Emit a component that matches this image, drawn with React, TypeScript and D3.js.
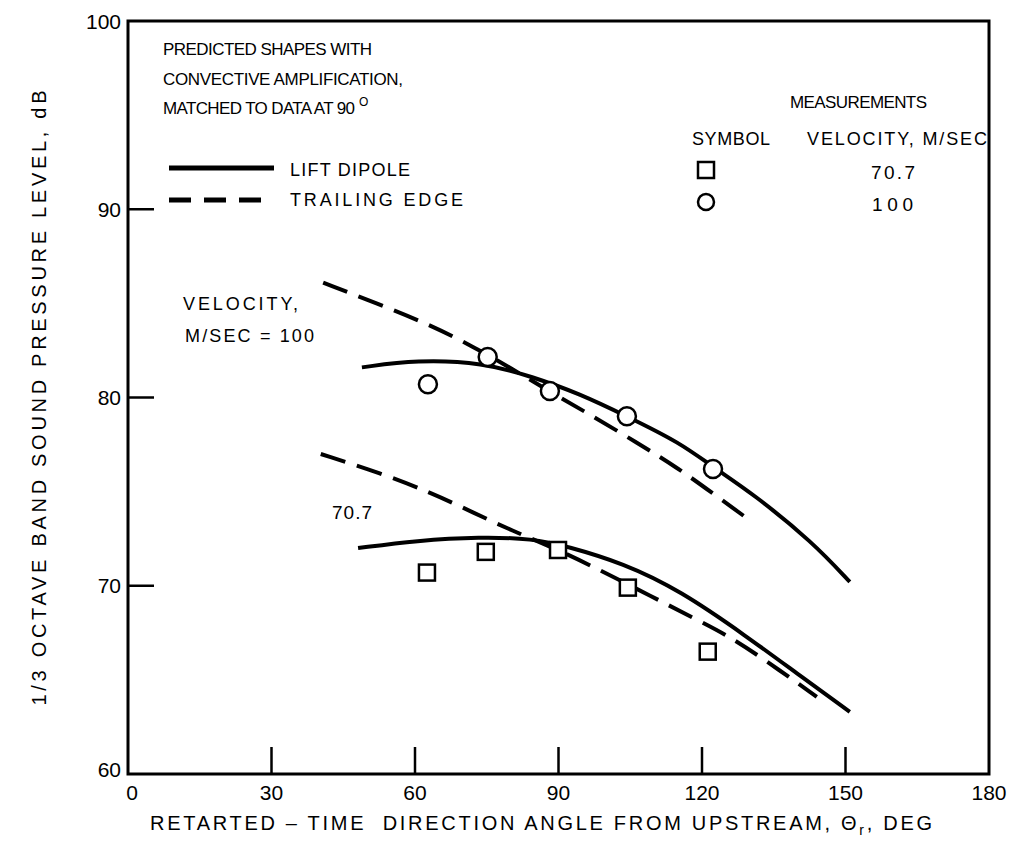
import React from "react";
import * as d3 from "d3";

// Predicted curves (angle deg, SPL dB)
const liftDipole100: [number, number][] = [
  [48.9, 81.6], [60.4, 82.0], [74.2, 81.85], [84.6, 81.1], [94.4, 80.2], [104.3, 79.0],
  [115.4, 77.6], [122.3, 76.3], [130.6, 74.9], [143.2, 72.3], [150.9, 70.2],
];
const trailingEdge100: [number, number][] = [
  [40.8, 86.1], [52.0, 85.0], [63.7, 83.8], [72.1, 82.7], [80.5, 81.5], [88.2, 80.3],
  [95.9, 79.2], [106.4, 77.6], [114.7, 76.3], [122.3, 74.9], [130.4, 73.4],
];
const liftDipole707: [number, number][] = [
  [48.1, 72.0], [60.4, 72.4], [73.6, 72.6], [84.7, 72.5], [91.7, 72.1], [103.5, 71.2],
  [115.4, 69.75], [129.4, 67.3], [139.8, 65.35], [150.9, 63.3],
];
const trailingEdge707: [number, number][] = [
  [40.3, 77.0], [52.7, 76.0], [63.7, 74.9], [72.1, 73.9], [80.5, 72.9], [88.2, 72.1],
  [96.6, 71.1], [109.7, 69.4], [118.9, 68.2], [125.8, 67.3], [133.5, 66.0], [144.0, 64.1],
];

// Measurements
const circles100: [number, number][] = [
  [62.7, 80.7], [75.2, 82.15], [88.2, 80.35], [104.3, 79.0], [122.3, 76.2],
];
const squares707: [number, number][] = [
  [62.5, 70.7], [74.8, 71.8], [89.9, 71.9], [104.5, 69.9], [121.2, 66.5],
];

const xTicks = [0, 30, 60, 90, 120, 150, 180];
const yTicks = [60, 70, 80, 90, 100];

const FONT = "'Liberation Sans', Arial, Helvetica, sans-serif";

export default function App() {
  const W = 1017, H = 855;
  const left = 128, right = 989, top = 21, bottom = 774;
  const x = d3.scaleLinear().domain([0, 180]).range([left, right]);
  const y = d3.scaleLinear().domain([60, 100]).range([bottom, top]);
  const line = d3
    .line<[number, number]>()
    .x((d) => x(d[0]))
    .y((d) => y(d[1]))
    .curve(d3.curveBasis);

  const solidStyle = { fill: "none", stroke: "#000", strokeWidth: 4 };
  const dashStyle = { fill: "none", stroke: "#000", strokeWidth: 4, strokeDasharray: "26 12" };

  const T = (props: { x: number; y: number; w: number; adj?: string; children: React.ReactNode; size?: number }) => (
    <text x={props.x} y={props.y} textLength={props.w} lengthAdjust={props.adj || "spacing"}
      fontSize={props.size || 18}>
      {props.children}
    </text>
  );

  return (
    <svg width={W} height={H} style={{ position: "absolute", left: 0, top: 0, background: "#fff" }}
      fontFamily={FONT}>
      <rect x={0} y={0} width={W} height={H} fill="#fff" />
      {/* frame */}
      <rect x={left} y={top} width={right - left} height={bottom - top} fill="none" stroke="#000" strokeWidth={3} />
      {/* y ticks */}
      {yTicks.filter((t) => t > 60 && t < 100).map((t) => (
        <line key={"yt" + t} x1={left} x2={left + 26} y1={y(t)} y2={y(t)} stroke="#000" strokeWidth={2.5} />
      ))}
      {yTicks.map((t) => (
        <text key={"yl" + t} x={left - 7} y={y(t) + (t === 60 ? -5 : 0)} dy="0.36em" textAnchor="end" fontSize={21}>
          {t}
        </text>
      ))}
      {/* x ticks */}
      {xTicks.filter((t) => t > 0 && t < 180).map((t) => (
        <line key={"xt" + t} x1={x(t)} x2={x(t)} y1={bottom} y2={bottom - 27} stroke="#000" strokeWidth={2.5} />
      ))}
      {xTicks.map((t) => (
        <text key={"xl" + t} x={x(t) + (t === 0 ? 4 : 0)} y={bottom + 26} textAnchor="middle" fontSize={21}>
          {t}
        </text>
      ))}
      {/* axis titles */}
      <text x={150} y={830} fontSize={20} textLength={782} lengthAdjust="spacing" style={{ whiteSpace: "pre" }}>
        {"RETARTED – TIME  DIRECTION ANGLE FROM UPSTREAM, Θ"}
        <tspan fontSize={14} dy={5}>r</tspan>
        <tspan dy={-5}>, DEG</tspan>
      </text>
      <text transform={`translate(46, 398) rotate(-90)`} textAnchor="middle" fontSize={20}
        textLength={615} lengthAdjust="spacing">
        1/3 OCTAVE BAND SOUND PRESSURE LEVEL, dB
      </text>

      {/* curves */}
      <path d={line(liftDipole100) || ""} style={solidStyle} />
      <path d={line(trailingEdge100) || ""} style={dashStyle} />
      <path d={line(liftDipole707) || ""} style={solidStyle} />
      <path d={line(trailingEdge707) || ""} style={dashStyle} />

      {/* measurements */}
      {circles100.map((d, i) => (
        <circle key={"c" + i} cx={x(d[0])} cy={y(d[1])} r={9} fill="#fff" stroke="#000" strokeWidth={2.5} />
      ))}
      {squares707.map((d, i) => (
        <rect key={"s" + i} x={x(d[0]) - 8} y={y(d[1]) - 8} width={16} height={16} fill="#fff" stroke="#000" strokeWidth={2.5} />
      ))}

      {/* annotation text */}
      <T x={163} y={55} w={209} size={17}>PREDICTED SHAPES WITH</T>
      <T x={163} y={85} w={240} size={17}>CONVECTIVE AMPLIFICATION,</T>
      <T x={163} y={114} w={192} size={17}>MATCHED TO DATA AT 90</T>
      <text x={359} y={106} fontSize={12}>O</text>
      <line x1={169} x2={274} y1={168} y2={168} stroke="#000" strokeWidth={5} />
      <line x1={169} x2={262} y1={200} y2={200} stroke="#000" strokeWidth={5} strokeDasharray="22 13" />
      <T x={290} y={176} w={120}>LIFT DIPOLE</T>
      <T x={290} y={206} w={173}>TRAILING EDGE</T>

      <T x={790} y={108} w={137} size={17}>MEASUREMENTS</T>
      <T x={692} y={145} w={78}>SYMBOL</T>
      <T x={807} y={145} w={180}>VELOCITY, M/SEC</T>
      <rect x={698} y={162} width={16} height={16} fill="#fff" stroke="#000" strokeWidth={2.5} />
      <circle cx={706} cy={202} r={8} fill="#fff" stroke="#000" strokeWidth={2.5} />
      <T x={871} y={179} w={44} size={19}>70.7</T>
      <T x={872} y={211} w={41} size={19}>100</T>

      <T x={183} y={310} w={115}>VELOCITY,</T>
      <T x={185} y={342} w={129}>M/SEC = 100</T>
      <T x={332} y={519} w={40} size={19}>70.7</T>
    </svg>
  );
}
